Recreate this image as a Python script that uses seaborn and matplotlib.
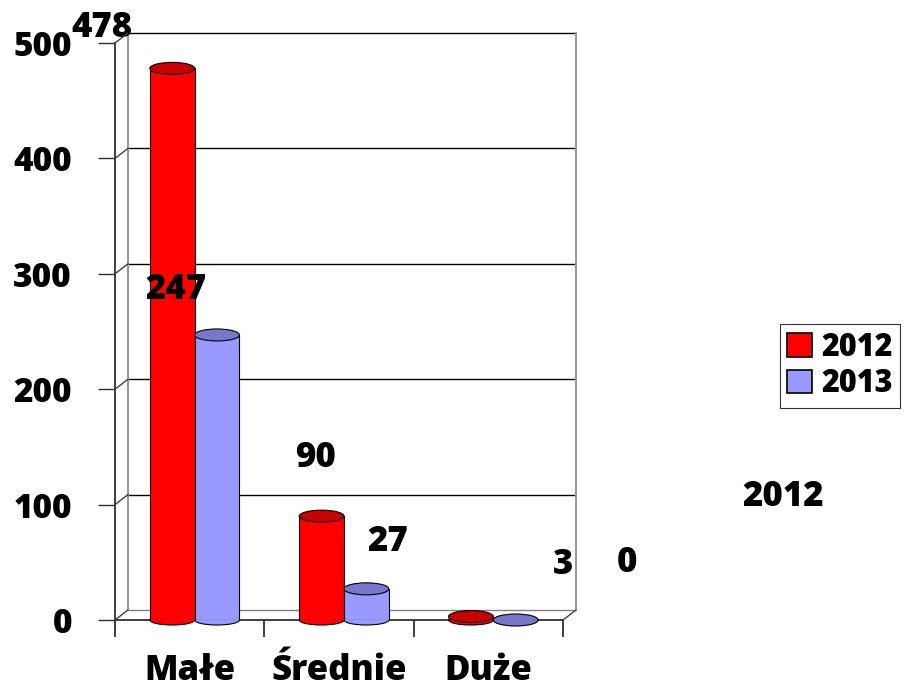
import matplotlib
matplotlib.use("Agg")
import matplotlib.pyplot as plt
import matplotlib.transforms as mtransforms
from matplotlib.patches import Ellipse, Patch
import seaborn as sns
import pandas as pd

categories = ["Małe", "Średnie", "Duże"]
years = ["2012", "2013"]
values_2012 = [478, 90, 3]
values_2013 = [247, 27, 0]
y_ticks = [0, 100, 200, 300, 400, 500]
stray_label = "2012"

label_positions = [(-0.587, 513), (0.846, 140), (2.5, 48),
                   (-0.091, 286), (1.328, 68), (2.929, 49)]

df = pd.DataFrame({
    "kategoria": categories * 2,
    "rok": [years[0]] * 3 + [years[1]] * 3,
    "wartosc": values_2012 + values_2013,
})

sns.set_theme(style="white")
plt.rcParams["font.family"] = ["Open Sans", "DejaVu Sans"]
plt.rcParams["font.weight"] = "bold"
plt.rcParams["text.color"] = "black"
plt.rcParams["xtick.color"] = "black"
plt.rcParams["ytick.color"] = "black"
plt.rcParams["xtick.labelcolor"] = "black"
plt.rcParams["ytick.labelcolor"] = "black"

W, H = 915, 690
fig = plt.figure(figsize=(W / 100, H / 100), dpi=100)
ax = fig.add_axes([115 / W, (H - 620) / H, 448 / W, 577 / H])

colors = {"2012": "#FF0000", "2013": "#9999FF"}
tops = {"2012": "#C80000", "2013": "#7777CC"}
sns.barplot(data=df, x="kategoria", y="wartosc", hue="rok", palette=colors,
            saturation=1, width=0.6, gap=0, edgecolor="black", linewidth=0.8,
            ax=ax, legend=False, zorder=3)
ax.set_xlim(-0.5, 2.5)
ax.set_ylim(0, 500)

# 3D back wall: gridlines, edges
back = mtransforms.offset_copy(ax.transData, fig=fig, x=13, y=10, units="dots")
for v in y_ticks:
    ax.plot([-0.5, 2.5], [v, v], color="black" if v > 0 else "#808080",
            lw=1.0, transform=back, clip_on=False, zorder=1)
ax.plot([-0.5, -0.5], [0, 500], color="#9a9a9a", lw=1.5, transform=back, clip_on=False, zorder=1)
ax.plot([2.5, 2.5], [0, 500], color="#9a9a9a", lw=1.5, transform=back, clip_on=False, zorder=1)
for v in y_ticks:
    p0 = ax.transData.transform((-0.5, v))
    p1 = back.transform((-0.5, v))
    fig.add_artist(plt.Line2D([p0[0] / W, p1[0] / W], [p0[1] / H, p1[1] / H],
                              color="#404040", lw=1.0, transform=fig.transFigure))
p0 = ax.transData.transform((2.5, 0))
p1 = back.transform((2.5, 0))
fig.add_artist(plt.Line2D([p0[0] / W, p1[0] / W], [p0[1] / H, p1[1] / H],
                          color="#404040", lw=1.0, transform=fig.transFigure))

# cylinder tops and shift bars into depth
shift = mtransforms.offset_copy(ax.transData, fig=fig, x=5, y=0, units="dots")
bars = list(ax.patches)
order = [y for y in years for _ in categories]
px_per_unit_y = 577 / 500
for p, yr in zip(bars, order):
    p.set_transform(shift)
    x = p.get_x() + p.get_width() / 2
    h = p.get_height()
    e = Ellipse((x, h), width=p.get_width(), height=12 / px_per_unit_y,
                facecolor=tops[yr], edgecolor="black", lw=0.8,
                transform=shift, zorder=4, clip_on=False)
    ax.add_patch(e)
    e2 = Ellipse((x, 0), width=p.get_width(), height=10 / px_per_unit_y,
                 facecolor=colors[yr], edgecolor="black", lw=0.8,
                 transform=shift, zorder=2.9, clip_on=False)
    ax.add_patch(e2)

for s in ["top", "right"]:
    ax.spines[s].set_visible(False)
ax.spines["left"].set_color("#303030")
ax.spines["bottom"].set_color("#303030")
ax.spines["left"].set_linewidth(1.3)
ax.spines["bottom"].set_linewidth(1.3)
ax.set_yticks(y_ticks)
ax.set_yticklabels([str(v) for v in y_ticks], fontsize=24, fontweight=800)
ax.tick_params(axis="y", direction="out", length=12, width=1, color="#303030", pad=19, left=True)
ax.set_xticks([0, 1, 2])
ax.set_xticklabels(categories, fontsize=25, fontweight=800)
ax.tick_params(axis="x", which="major", length=0, pad=24)
ax.set_xticks([-0.5, 0.5, 1.5, 2.5], minor=True)
ax.tick_params(axis="x", which="minor", direction="out", length=12, width=1.3, color="#303030", bottom=True)
ax.set_xlabel("")
ax.set_ylabel("")
ax.grid(False)

all_vals = values_2012 + values_2013
for v, (lx, ly) in zip(all_vals, label_positions):
    ax.text(lx, ly, str(v), fontsize=25, fontweight=800, ha="center",
            va="center", clip_on=False, zorder=6, color="black")

handles = [Patch(facecolor=colors[y], edgecolor="black", lw=1.2) for y in years]
leg = fig.legend(handles, years, loc="center", bbox_to_anchor=(840 / W, 1 - 366 / H),
                 frameon=True, fancybox=False, edgecolor="black",
                 handlelength=0.8, handleheight=0.8, handletextpad=0.3,
                 borderpad=0.25, labelspacing=0.15, prop={"weight": 800, "size": 22})
leg.get_frame().set_linewidth(0.8)
for t in leg.get_texts():
    t.set_color("black")

fig.text(783 / W, 1 - 497 / H, stray_label, fontsize=25, fontweight=800,
         ha="center", va="center", color="black")

fig.savefig("out.png", dpi=100)
